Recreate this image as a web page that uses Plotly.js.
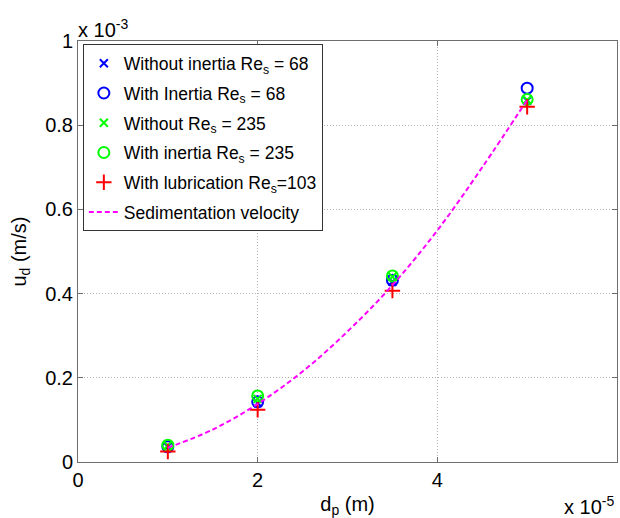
<!DOCTYPE html>
<html><head><meta charset="utf-8">
<script src="https://cdn.plot.ly/plotly-3.0.1.min.js"></script>
<style>body{margin:0;background:#fff}#c{width:620px;height:518px}</style>
</head><body><div id="c"></div>
<script>
// x in units of 1e-5 m, y in units of 1e-3 m/s
var dp = [1, 2, 3.5, 5];
var noInertia68 = [0.037, 0.140, 0.428, 0.858];
var inertia68 = [0.036, 0.143, 0.432, 0.888];
var noInertia235 = [0.039, 0.150, 0.440, 0.860];
var inertia235 = [0.040, 0.157, 0.442, 0.861];
var lubrication103 = [0.025, 0.124, 0.407, 0.844];
var sedX = [1, 1.5, 2, 2.5, 3, 3.5, 4, 4.5, 5];
var sedY = [0.034, 0.077, 0.138, 0.215, 0.31, 0.42, 0.55, 0.70, 0.86];
var xTicks = [0, 2, 4, 6];
var xTickText = ['0', '2', '4', '6'];
var yTicks = [0, 0.2, 0.4, 0.6, 0.8, 1];
var yTickText = ['0', '0.2', '0.4', '0.6', '0.8', '1'];
var names = ['Without inertia Re<sub>s</sub> = 68', 'With Inertia Re<sub>s</sub> = 68',
  'Without Re<sub>s</sub> = 235', 'With inertia Re<sub>s</sub> = 235',
  'With lubrication Re<sub>s</sub>=103', 'Sedimentation velocity'];

var F = 'Arial, "Liberation Sans", sans-serif';
function mk(y, name, sym, col, size, g){
  return {x: dp, y: y, name: name, type: 'scatter', mode: 'markers', legendgroup: g,
    marker: {symbol: sym, size: size, color: col, line: {color: col, width: 2}}};
}
var traces = [
  mk(noInertia68, names[0], 'x-thin-open', '#0000ff', 8, 'a'),
  mk(inertia68, names[1], 'circle-open', '#0000ff', 11, 'b'),
  mk(noInertia235, names[2], 'x-thin-open', '#00ff00', 8, 'c'),
  mk(inertia235, names[3], 'circle-open', '#00ff00', 11, 'd'),
  mk(lubrication103, names[4], 'cross-thin-open', '#ff0000', 11, 'e'),
  {x: sedX, y: sedY, name: names[5], legendgroup: 'f', type: 'scatter', mode: 'lines',
   line: {shape: 'spline', color: '#ff00ff', width: 2, dash: '5px,3px'}}
];
var ax = {showline: true, mirror: 'ticks', linecolor: '#6e6e6e', linewidth: 1, ticks: 'inside', ticklen: 5,
  tickcolor: '#6e6e6e', showgrid: true, gridcolor: '#b4b4b4', griddash: '1px,2px', gridwidth: 1, zeroline: false,
  tickfont: {family: F, size: 20, color: '#000'}};
var layout = {
  width: 620, height: 518, margin: {l: 78, r: 3, t: 41, b: 56},
  paper_bgcolor: '#fff', plot_bgcolor: '#fff', showlegend: true,
  xaxis: Object.assign({}, ax, {range: [0, 6], tickvals: xTicks, ticktext: xTickText,
    title: {text: 'd<sub>p</sub> (m)', font: {family: F, size: 20, color: '#000'}, standoff: 6}}),
  yaxis: Object.assign({}, ax, {range: [0, 1], tickvals: yTicks, ticktext: yTickText,
    title: {text: 'u<sub>d</sub> (m/s)', font: {family: F, size: 20, color: '#000'}, standoff: 13}}),
  legend: {x: 0.009, y: 0.992, xanchor: 'left', yanchor: 'top', bgcolor: '#fff', bordercolor: '#333', borderwidth: 1,
    font: {family: F, size: 17.5, color: '#000'}, tracegroupgap: 4, itemwidth: 30},
  annotations: [
    {xref: 'paper', yref: 'paper', x: 0, y: 1, xanchor: 'left', yanchor: 'bottom', showarrow: false, yshift: -2, xshift: -2,
     text: 'x 10<sup>-3</sup>', font: {family: F, size: 20, color: '#000'}},
    {xref: 'paper', yref: 'paper', x: 1, y: 0, xanchor: 'right', yanchor: 'top', showarrow: false, yshift: -29, xshift: -1,
     text: 'x 10<sup>-5</sup>', font: {family: F, size: 20, color: '#000'}}
  ]
};
Plotly.newPlot('c', traces, layout, {staticPlot: true});
</script></body></html>
